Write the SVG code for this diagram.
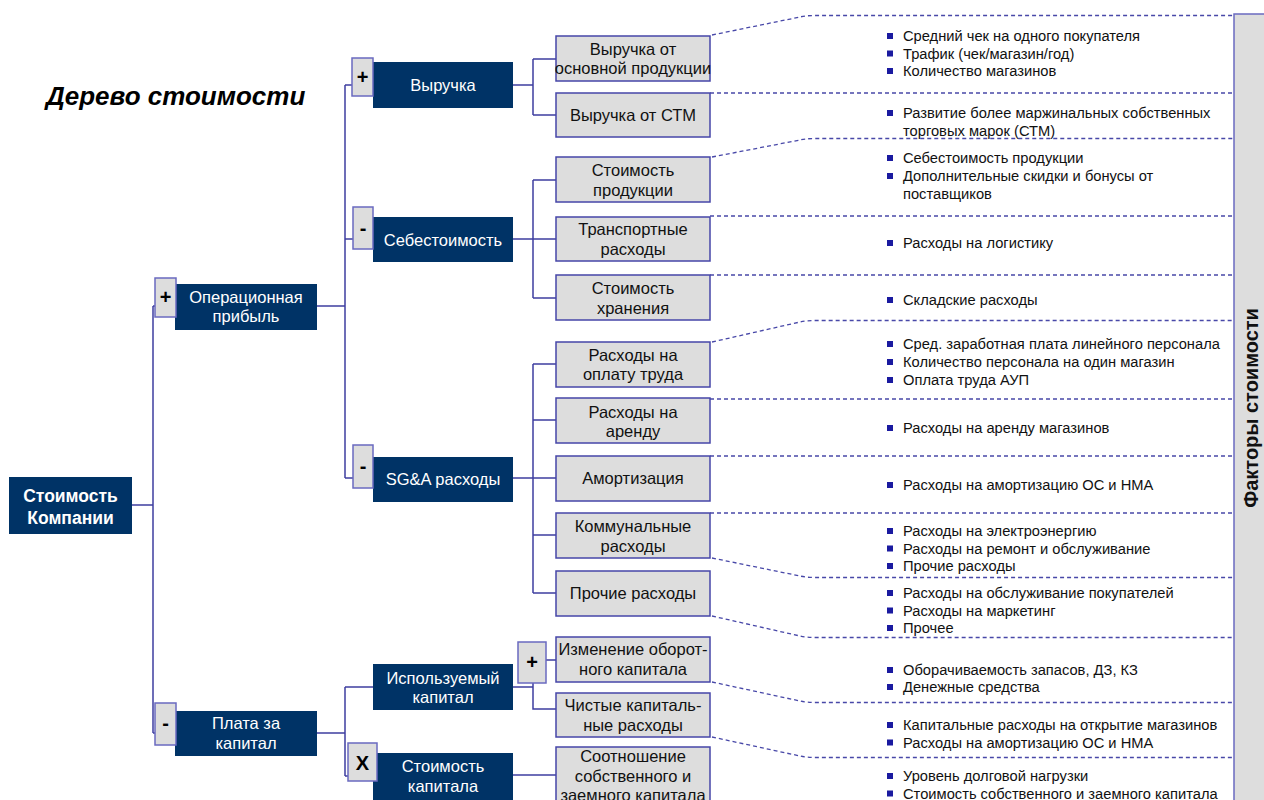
<svg xmlns="http://www.w3.org/2000/svg" width="1264" height="800" viewBox="0 0 1264 800">
  <style>
    .dark { fill: #003366; }
    .light { fill: #DDDDDD; stroke: #4646A8; stroke-width: 1.5; }
    .sign { fill: #DDDDDD; stroke: #6A6AC0; stroke-width: 1.5; }
    .wt { fill: #FFFFFF; font-family: "Liberation Sans", Arial, sans-serif; font-size: 16.5px; text-anchor: middle; }
    .wb { fill: #FFFFFF; font-family: "Liberation Sans", Arial, sans-serif; font-size: 17.5px; font-weight: bold; text-anchor: middle; }
    .bt { fill: #111111; font-family: "Liberation Sans", Arial, sans-serif; font-size: 16.5px; text-anchor: middle; }
    .st { fill: #000000; font-family: "Liberation Sans", Arial, sans-serif; font-size: 20px; font-weight: bold; text-anchor: middle; }
    .li { fill: #111111; font-family: "Liberation Sans", Arial, sans-serif; font-size: 14.7px; }
    .bl { fill: #1A1AA0; }
    .tree { fill: none; stroke: #3E3EA0; stroke-width: 1.5; }
    .dash { fill: none; stroke: #4848A8; stroke-width: 1.3; stroke-dasharray: 4 3; }
  </style>

  <rect width="1264" height="800" fill="#FFFFFF"/>

  <!-- title -->
  <text x="46" y="105" font-family="Liberation Sans, Arial, sans-serif" font-size="26" font-weight="bold" font-style="italic" fill="#000">Дерево стоимости</text>

  <!-- value-driver side bar -->
  <g id="drivers-bar">
    <rect x="1234" y="14" width="40" height="800" fill="#DDDDDD" stroke="#6A6AC0" stroke-width="1.5"/>
    <text transform="translate(1258,408) rotate(-90)" text-anchor="middle" font-family="Liberation Sans, Arial, sans-serif" font-size="20" font-weight="bold" fill="#111">Факторы стоимости</text>
  </g>

  <!-- connectors -->
  <g id="connectors">
    <!-- solid tree links -->
    <path class="tree" d="M132,505 H153 M153,306 V733 M153,306 H155 M153,733 H155"/>
    <path class="tree" d="M317,306 H345 M345,85 V478 M345,85 H352 M345,239 H353 M345,478 H353"/>
    <path class="tree" d="M513,85 H533 M533,59 V115 M533,59 H556 M533,115 H556"/>
    <path class="tree" d="M513,239 H556 M533,180 V298 M533,180 H556 M533,298 H556"/>
    <path class="tree" d="M513,478 H556 M533,364 V593 M533,364 H556 M533,420 H556 M533,535 H556 M533,593 H556"/>
    <path class="tree" d="M317,733 H345 M345,687 V776 M345,687 H373 M345,776 H348"/>
    <path class="tree" d="M513,687 H533 M533,683 V709 H556 M546,660 H556"/>
    <path class="tree" d="M513,775 H556"/>

    <!-- dashed separators towards driver list -->
    <path class="dash" d="M712,35 L800,17 Q806,15.5 815,15.5 H1234"/>
    <path class="dash" d="M710,93 H1234"/>
    <path class="dash" d="M712,157 L800,140 Q806,138.5 815,138.5 H1234"/>
    <path class="dash" d="M710,216 H1234"/>
    <path class="dash" d="M710,275 H1234"/>
    <path class="dash" d="M712,342 L800,322 Q806,320.5 815,320.5 H1234"/>
    <path class="dash" d="M710,399 H1234"/>
    <path class="dash" d="M710,456 H1234"/>
    <path class="dash" d="M710,513 H1234"/>
    <path class="dash" d="M712,558 L800,576 Q806,577.5 815,577.5 H1234"/>
    <path class="dash" d="M712,616 L800,636 Q806,637.5 815,637.5 H1234"/>
    <path class="dash" d="M712,682 L800,701 Q806,702.5 815,702.5 H1234"/>
    <path class="dash" d="M712,737 L800,756 Q806,757.5 815,757.5 H1234"/>
  </g>

  <!-- level 0 -->
  <g id="company-value">
    <rect class="dark" x="9" y="477" width="123" height="57"/>
    <text class="wb" x="70.5" y="502">Стоимость</text>
    <text class="wb" x="70.5" y="524">Компании</text>
  </g>

  <!-- level 1 -->
  <g id="operating-profit">
    <rect class="dark" x="175" y="284" width="142" height="46"/>
    <text class="wt" x="246" y="303">Операционная</text>
    <text class="wt" x="246" y="322">прибыль</text>
    <rect class="sign" x="155" y="278" width="21" height="39"/>
    <text class="st" x="165.5" y="304">+</text>
  </g>

  <g id="capital-charge">
    <rect class="dark" x="175" y="711" width="142" height="45"/>
    <text class="wt" x="246" y="729">Плата за</text>
    <text class="wt" x="246" y="749">капитал</text>
    <rect class="sign" x="155" y="703" width="21" height="42"/>
    <text class="st" x="165.5" y="730">-</text>
  </g>

  <!-- level 2 -->
  <g id="revenue">
    <rect class="dark" x="373" y="62" width="140" height="46"/>
    <text class="wt" x="443" y="91">Выручка</text>
    <rect class="sign" x="352" y="58" width="21" height="38"/>
    <text class="st" x="362.5" y="84">+</text>
  </g>

  <g id="cogs">
    <rect class="dark" x="373" y="217" width="140" height="45"/>
    <text class="wt" x="443" y="246">Себестоимость</text>
    <rect class="sign" x="353" y="207" width="20" height="42"/>
    <text class="st" x="363" y="235">-</text>
  </g>

  <g id="sga">
    <rect class="dark" x="373" y="457" width="140" height="45"/>
    <text class="wt" x="443" y="485">SG&amp;A расходы</text>
    <rect class="sign" x="353" y="445" width="20" height="43"/>
    <text class="st" x="363" y="473">-</text>
  </g>

  <g id="capital-employed">
    <rect class="dark" x="373" y="664" width="140" height="46"/>
    <text class="wt" x="443" y="684">Используемый</text>
    <text class="wt" x="443" y="703">капитал</text>
  </g>

  <g id="cost-of-capital">
    <rect class="dark" x="373" y="753" width="140" height="50"/>
    <text class="wt" x="443" y="772">Стоимость</text>
    <text class="wt" x="443" y="792">капитала</text>
    <rect class="sign" x="348" y="743" width="29" height="38"/>
    <text class="st" x="362.5" y="770">X</text>
  </g>

  <!-- level 3 -->
  <g id="core-revenue">
    <rect class="light" x="556" y="36" width="154" height="45"/>
    <text class="bt" x="633" y="55">Выручка от</text>
    <text class="bt" x="633" y="74">основной продукции</text>
  </g>
  <g id="private-label-revenue">
    <rect class="light" x="556" y="93" width="154" height="44"/>
    <text class="bt" x="633" y="121">Выручка от СТМ</text>
  </g>
  <g id="product-cost">
    <rect class="light" x="556" y="157" width="154" height="45"/>
    <text class="bt" x="633" y="176">Стоимость</text>
    <text class="bt" x="633" y="196">продукции</text>
  </g>
  <g id="transport-cost">
    <rect class="light" x="556" y="217" width="154" height="44"/>
    <text class="bt" x="633" y="235">Транспортные</text>
    <text class="bt" x="633" y="255">расходы</text>
  </g>
  <g id="storage-cost">
    <rect class="light" x="556" y="275" width="154" height="45"/>
    <text class="bt" x="633" y="294">Стоимость</text>
    <text class="bt" x="633" y="314">хранения</text>
  </g>
  <g id="payroll">
    <rect class="light" x="556" y="342" width="154" height="45"/>
    <text class="bt" x="633" y="361">Расходы на</text>
    <text class="bt" x="633" y="380">оплату труда</text>
  </g>
  <g id="rent">
    <rect class="light" x="556" y="398" width="154" height="45"/>
    <text class="bt" x="633" y="418">Расходы на</text>
    <text class="bt" x="633" y="437">аренду</text>
  </g>
  <g id="depreciation">
    <rect class="light" x="556" y="456" width="154" height="45"/>
    <text class="bt" x="633" y="484">Амортизация</text>
  </g>
  <g id="utilities">
    <rect class="light" x="556" y="513" width="154" height="45"/>
    <text class="bt" x="633" y="532">Коммунальные</text>
    <text class="bt" x="633" y="552">расходы</text>
  </g>
  <g id="other-expenses">
    <rect class="light" x="556" y="571" width="154" height="45"/>
    <text class="bt" x="633" y="599">Прочие расходы</text>
  </g>
  <g id="working-capital">
    <rect class="light" x="556" y="637" width="154" height="45"/>
    <text class="bt" x="633" y="655">Изменение оборот-</text>
    <text class="bt" x="633" y="675">ного капитала</text>
    <rect class="sign" x="518" y="642" width="28" height="41"/>
    <text class="st" x="532" y="669">+</text>
  </g>
  <g id="net-capex">
    <rect class="light" x="556" y="693" width="154" height="44"/>
    <text class="bt" x="633" y="711">Чистые капиталь-</text>
    <text class="bt" x="633" y="731">ные расходы</text>
  </g>
  <g id="debt-equity">
    <rect class="light" x="556" y="747" width="154" height="60"/>
    <text class="bt" x="633" y="762">Соотношение</text>
    <text class="bt" x="633" y="782">собственного и</text>
    <text class="bt" x="633" y="801">заемного капитала</text>
  </g>

  <!-- driver lists -->
  <g id="driver-lists">
    <g class="bl">
      <rect x="887" y="33" width="6" height="6"/>
      <rect x="887" y="50.5" width="6" height="6"/>
      <rect x="887" y="68" width="6" height="6"/>
      <rect x="887" y="110" width="6" height="6"/>
      <rect x="887" y="155" width="6" height="6"/>
      <rect x="887" y="173" width="6" height="6"/>
      <rect x="887" y="240" width="6" height="6"/>
      <rect x="887" y="297" width="6" height="6"/>
      <rect x="887" y="341" width="6" height="6"/>
      <rect x="887" y="359" width="6" height="6"/>
      <rect x="887" y="377" width="6" height="6"/>
      <rect x="887" y="425" width="6" height="6"/>
      <rect x="887" y="482" width="6" height="6"/>
      <rect x="887" y="528" width="6" height="6"/>
      <rect x="887" y="545.5" width="6" height="6"/>
      <rect x="887" y="563" width="6" height="6"/>
      <rect x="887" y="590" width="6" height="6"/>
      <rect x="887" y="607.5" width="6" height="6"/>
      <rect x="887" y="625" width="6" height="6"/>
      <rect x="887" y="667" width="6" height="6"/>
      <rect x="887" y="684" width="6" height="6"/>
      <rect x="887" y="722" width="6" height="6"/>
      <rect x="887" y="739.5" width="6" height="6"/>
      <rect x="887" y="773" width="6" height="6"/>
      <rect x="887" y="790.5" width="6" height="6"/>
    </g>
    <text class="li" x="903" y="41">Средний чек на одного покупателя</text>
    <text class="li" x="903" y="58.5">Трафик (чек/магазин/год)</text>
    <text class="li" x="903" y="76">Количество магазинов</text>
    <text class="li" x="903" y="118">Развитие более маржинальных собственных</text>
    <text class="li" x="903" y="135.5">торговых марок (СТМ)</text>
    <text class="li" x="903" y="163">Себестоимость продукции</text>
    <text class="li" x="903" y="181">Дополнительные скидки и бонусы от</text>
    <text class="li" x="903" y="198.5">поставщиков</text>
    <text class="li" x="903" y="248">Расходы на логистику</text>
    <text class="li" x="903" y="305">Складские расходы</text>
    <text class="li" x="903" y="349">Сред. заработная плата линейного персонала</text>
    <text class="li" x="903" y="367">Количество персонала на один магазин</text>
    <text class="li" x="903" y="385">Оплата труда АУП</text>
    <text class="li" x="903" y="433">Расходы на аренду магазинов</text>
    <text class="li" x="903" y="490">Расходы на амортизацию ОС и НМА</text>
    <text class="li" x="903" y="536">Расходы на электроэнергию</text>
    <text class="li" x="903" y="553.5">Расходы на ремонт и обслуживание</text>
    <text class="li" x="903" y="571">Прочие расходы</text>
    <text class="li" x="903" y="598">Расходы на обслуживание покупателей</text>
    <text class="li" x="903" y="615.5">Расходы на маркетинг</text>
    <text class="li" x="903" y="633">Прочее</text>
    <text class="li" x="903" y="675">Оборачиваемость запасов, ДЗ, КЗ</text>
    <text class="li" x="903" y="692">Денежные средства</text>
    <text class="li" x="903" y="730">Капитальные расходы на открытие магазинов</text>
    <text class="li" x="903" y="747.5">Расходы на амортизацию ОС и НМА</text>
    <text class="li" x="903" y="781">Уровень долговой нагрузки</text>
    <text class="li" x="903" y="798.5">Стоимость собственного и заемного капитала</text>
  </g>
</svg>
